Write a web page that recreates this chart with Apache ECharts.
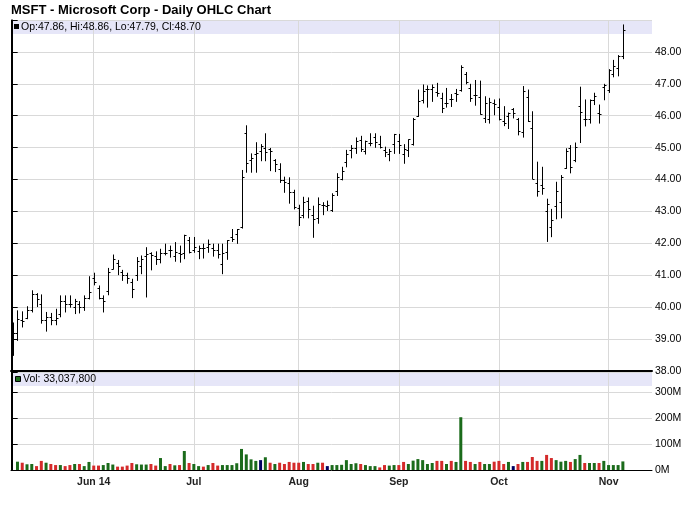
<!DOCTYPE html>
<html>
<head>
<meta charset="utf-8">
<script src="https://cdn.jsdelivr.net/npm/echarts@6/dist/echarts.min.js"></script>
<style>html,body{margin:0;padding:0;background:#fff}#c{width:700px;height:512px}</style>
</head>
<body>
<div id="c"></div>
<script>
const title = 'MSFT - Microsoft Corp - Daily OHLC Chart';
const dates = [
'2014-05-07','2014-05-08','2014-05-09','2014-05-12','2014-05-13','2014-05-14','2014-05-15','2014-05-16','2014-05-19','2014-05-20','2014-05-21','2014-05-22','2014-05-23','2014-05-27','2014-05-28','2014-05-29','2014-05-30',
'2014-06-02','2014-06-03','2014-06-04','2014-06-05','2014-06-06','2014-06-09','2014-06-10','2014-06-11','2014-06-12','2014-06-13','2014-06-16','2014-06-17','2014-06-18','2014-06-19','2014-06-20','2014-06-23','2014-06-24','2014-06-25','2014-06-26','2014-06-27','2014-06-30',
'2014-07-01','2014-07-02','2014-07-03','2014-07-07','2014-07-08','2014-07-09','2014-07-10','2014-07-11','2014-07-14','2014-07-15','2014-07-16','2014-07-17','2014-07-18','2014-07-21','2014-07-22','2014-07-23','2014-07-24','2014-07-25','2014-07-28','2014-07-29','2014-07-30','2014-07-31',
'2014-08-01','2014-08-04','2014-08-05','2014-08-06','2014-08-07','2014-08-08','2014-08-11','2014-08-12','2014-08-13','2014-08-14','2014-08-15','2014-08-18','2014-08-19','2014-08-20','2014-08-21','2014-08-22','2014-08-25','2014-08-26','2014-08-27','2014-08-28','2014-08-29',
'2014-09-02','2014-09-03','2014-09-04','2014-09-05','2014-09-08','2014-09-09','2014-09-10','2014-09-11','2014-09-12','2014-09-15','2014-09-16','2014-09-17','2014-09-18','2014-09-19','2014-09-22','2014-09-23','2014-09-24','2014-09-25','2014-09-26','2014-09-29','2014-09-30',
'2014-10-01','2014-10-02','2014-10-03','2014-10-06','2014-10-07','2014-10-08','2014-10-09','2014-10-10','2014-10-13','2014-10-14','2014-10-15','2014-10-16','2014-10-17','2014-10-20','2014-10-21','2014-10-22','2014-10-23','2014-10-24','2014-10-27','2014-10-28','2014-10-29','2014-10-30','2014-10-31',
'2014-11-03','2014-11-04','2014-11-05','2014-11-06'];
const tickLabels = ['Jun 14','Jul','Aug','Sep','Oct','Nov'];
const opens = [38.9,39.2,39.6,39.65,39.9,40.4,40.1,39.6,39.7,39.6,
39.8,40.2,40.1,40.0,40.1,40.0,40.3,40.9,40.6,40.3,
40.5,41.2,41.4,41.1,41.0,40.8,41.0,41.3,41.6,41.7,
41.6,41.5,41.7,41.8,41.6,41.7,41.7,42.1,41.8,41.75,
41.85,41.9,41.85,41.8,41.36,41.72,42.2,42.3,42.5,45.45,
44.6,44.8,44.9,45.0,44.95,44.6,44.33,44.0,43.9,43.6,
43.1,42.9,43.34,42.9,42.8,43.2,43.18,43.05,43.65,44.02,
44.54,44.93,45.0,45.24,44.9,45.13,45.34,45.11,44.93,44.8,
45.11,45.2,44.8,44.93,45.1,46.0,46.5,46.84,46.84,46.75,
46.56,46.4,46.53,46.72,46.8,47.3,46.87,46.66,46.6,45.93,
45.9,46.4,46.27,45.85,45.98,46.2,45.9,45.5,46.6,45.6,
43.9,43.82,43.0,42.51,43.17,43.3,44.35,45.0,44.6,46.3,
45.9,45.9,46.5,46.1,46.9,46.8,47.3,47.5,47.86];
const highs = [39.52,39.9,39.87,40.03,40.53,40.44,40.4,39.85,39.82,39.95,
40.37,40.37,40.37,40.26,40.19,40.37,40.97,41.08,40.68,40.37,
41.23,41.65,41.48,41.17,41.08,40.89,41.57,41.62,41.88,41.72,
41.75,41.83,41.99,41.93,42.04,41.93,42.27,42.2,42.2,41.93,
41.99,42.12,41.99,41.99,41.99,42.1,42.45,42.45,44.3,45.7,
44.82,45.17,45.11,45.45,44.99,44.64,44.51,44.09,44.07,43.68,
43.21,43.46,43.44,43.18,43.44,43.29,43.34,43.57,44.2,44.4,
44.93,45.08,45.32,45.37,45.22,45.45,45.45,45.37,45.03,44.96,
45.43,45.43,45.11,45.26,45.93,46.82,46.98,46.95,46.98,47.03,
46.72,46.87,46.68,46.84,47.58,47.37,47.0,47.12,47.1,46.61,
46.56,46.51,46.54,46.3,46.1,46.24,45.93,46.93,46.82,46.14,
44.56,44.4,43.4,43.08,43.93,44.14,44.98,45.08,45.16,46.91,
46.51,46.51,46.72,46.35,47.0,47.46,47.75,47.9,48.86];
const lows = [38.49,38.96,39.38,39.64,39.85,40.02,39.5,39.25,39.45,39.45,
39.7,39.85,40.0,39.8,39.82,39.9,40.26,40.7,40.26,39.85,
40.39,41.2,41.02,40.84,40.75,40.3,40.84,41.05,40.32,41.17,
41.34,41.39,41.64,41.57,41.44,41.41,41.52,41.7,41.72,41.52,
41.54,41.72,41.6,41.54,41.05,41.5,42.06,42.0,42.48,44.23,
44.23,44.23,44.59,44.59,44.28,44.25,43.91,43.6,43.26,43.08,
42.56,42.8,42.8,42.19,42.63,42.9,43.03,43.0,43.5,43.99,
44.4,44.68,44.82,44.88,44.8,45.06,45.01,44.99,44.72,44.59,
44.82,44.82,44.51,44.72,45.08,45.98,46.4,46.27,46.45,46.61,
46.1,46.27,46.29,46.45,46.77,47.0,46.45,46.33,46.05,45.79,
45.77,46.03,45.87,45.69,45.6,45.93,45.4,45.33,45.82,44.03,
43.48,43.54,42.06,42.21,42.77,42.8,44.35,44.21,44.56,45.16,
45.68,45.77,46.35,45.77,46.5,46.73,47.22,47.25,47.79];
const closes = [39.2,39.64,39.57,39.9,40.4,40.26,39.6,39.7,39.6,39.65,
40.2,40.1,40.1,40.2,40.0,40.3,40.47,40.8,40.3,40.2,
41.1,41.5,41.3,41.0,40.9,40.58,41.45,41.5,41.67,41.65,
41.5,41.7,41.7,41.78,41.72,41.67,42.25,41.72,41.88,41.85,
41.87,41.99,41.78,41.67,41.69,42.09,42.14,42.45,44.08,44.53,
44.69,44.84,45.05,44.87,44.9,44.49,44.0,43.91,43.6,43.13,
42.84,43.3,43.08,42.77,43.23,43.2,43.2,43.52,44.08,44.27,
44.79,45.0,45.2,44.95,45.2,45.15,45.17,45.01,44.87,44.88,
45.43,45.09,44.96,45.26,45.91,46.47,46.76,46.84,46.9,46.7,
46.24,46.4,46.52,46.68,47.52,47.06,46.56,46.64,46.04,46.41,
46.44,46.36,45.9,45.76,46.09,46.09,45.53,46.78,45.85,44.03,
43.65,43.73,43.22,42.74,43.63,44.08,44.88,44.38,45.02,46.13,
45.91,46.49,46.61,46.05,46.95,47.44,47.57,47.86,48.70];
// volume in millions of shares
const volumes = [null,32,28,22,23,15,35,28,23,19,
19,15,19,23,23,15,31,17,17,19,
27,21,13,13,17,27,22,21,21,23,
17,46,15,23,18,19,73,27,23,15,
13,19,27,17,19,19,19,26,81,60,
41,35,38,49,28,23,28,23,31,28,
28,31,23,23,28,28,15,19,19,20,
38,23,26,23,19,15,15,10,19,17,
19,19,31,23,36,42,38,23,27,35,
35,23,35,31,203,35,31,23,31,23,
23,32,35,23,31,15,23,31,31,50,
35,35,58,46,38,32,35,31,42,58,
27,27,27,27,35,19,19,19,33.0378];
// volume bar direction: u = up day, d = down day, n = unchanged
const volDirs = ['u','u','d','u','u','d','d','u','d','d',
'u','d','d','u','d','u','u','d','d','u',
'u','u','d','d','d','d','u','u','u','d',
'd','u','u','d','u','d','u','d','u','u',
'd','u','d','d','u','u','u','u','u','u',
'u','u','n','u','d','u','d','d','d','d',
'd','u','d','d','u','d','n','u','u','u',
'u','u','u','d','u','u','u','d','d','u',
'u','d','d','u','u','u','u','u','u','d',
'd','u','d','u','u','d','d','u','d','u',
'u','d','d','d','u','n','d','u','d','d',
'd','u','d','d','u','u','u','d','u','u',
'd','u','u','d','u','u','u','u','u'];

const FONT = '"Liberation Sans", Arial, sans-serif';
const dirColor = {u: '#1b6b1b', d: '#d42a2a', n: '#000060'};
const monthStartIdx = dates.map((d, i) => (i > 0 && d.slice(5, 7) !== dates[i - 1].slice(5, 7)) ? i : -1).filter(i => i >= 0);

const ohlc = dates.map((d, i) => [i, opens[i], highs[i], lows[i], closes[i]]);
const vols = dates.map((d, i) => ({value: [i, volumes[i]], itemStyle: {color: dirColor[volDirs[i]]}}));

const last = dates.length - 1;
const legendPrice = 'Op:' + opens[last].toFixed(2) + ', Hi:' + highs[last].toFixed(2) + ', Lo:' + lows[last].toFixed(2) + ', Cl:' + closes[last].toFixed(2);
const legendVol = 'Vol: ' + Math.round(volumes[last] * 1e6).toLocaleString('en-US');

const X_MIN = -0.357, X_MAX = 134.11;
const gridLine = {show: true, lineStyle: {color: '#d9d9d9', width: 1}};

function xAxisCfg(gi, showLabels) {
  return {
    type: 'value', gridIndex: gi, min: X_MIN, max: X_MAX,
    axisLine: {show: true, onZero: false, lineStyle: {color: '#000', width: gi === 0 ? 2 : 1}},
    axisTick: {show: false, customValues: monthStartIdx},
    splitLine: gridLine,
    axisLabel: {
      show: showLabels, customValues: monthStartIdx, margin: 7,
      fontFamily: FONT, fontSize: 10.5, fontWeight: 'bold', color: '#222',
      formatter: v => tickLabels[monthStartIdx.indexOf(Math.round(v))] || ''
    }
  };
}

const chart = echarts.init(document.getElementById('c'), null, {renderer: 'canvas'});
chart.setOption({
  animation: false,
  backgroundColor: '#fff',
  title: {text: title, left: 11, top: 4, padding: 0,
    textStyle: {fontFamily: FONT, fontSize: 13, fontWeight: 'bold', color: '#000'}},
  grid: [
    {left: 11, right: 48, top: 20, height: 351},
    {left: 11, right: 48, top: 372, height: 98}
  ],
  xAxis: [xAxisCfg(0, false), xAxisCfg(1, true)],
  yAxis: [
    {type: 'value', gridIndex: 0, position: 'right', min: 38, max: 49, interval: 1,
      axisLine: {show: true, lineStyle: {color: '#000'}},
      axisTick: {show: true, length: 5, lineStyle: {color: '#000'}},
      splitLine: gridLine,
      axisLabel: {margin: 3, fontFamily: FONT, fontSize: 10.5, color: '#000',
        formatter: v => v >= 49 ? '' : v.toFixed(2)}},
    {type: 'value', gridIndex: 0, position: 'left', min: 38, max: 49,
      axisLine: {show: true, lineStyle: {color: '#000'}},
      axisTick: {show: false}, axisLabel: {show: false}, splitLine: {show: false}},
    {type: 'value', gridIndex: 1, position: 'right', min: 0, max: 377, interval: 100,
      axisLine: {show: true, lineStyle: {color: '#000'}},
      axisTick: {show: true, length: 5, lineStyle: {color: '#000'}},
      splitLine: gridLine,
      axisLabel: {margin: 3, fontFamily: FONT, fontSize: 10.5, color: '#000',
        formatter: v => v > 350 ? '' : v + 'M'}},
    {type: 'value', gridIndex: 1, position: 'left', min: 0, max: 377,
      axisLine: {show: true, lineStyle: {color: '#000'}},
      axisTick: {show: false}, axisLabel: {show: false}, splitLine: {show: false}}
  ],
  graphic: [
    {type: 'rect', z: -1, shape: {x: 12, y: 20, width: 640, height: 14}, style: {fill: '#e6e6f8'}, silent: true},
    {type: 'rect', z: -1, shape: {x: 12, y: 373, width: 640, height: 13}, style: {fill: '#e6e6f8'}, silent: true},
    {type: 'rect', z: 20, shape: {x: 14, y: 24, width: 5, height: 5}, style: {fill: '#000'}},
    {type: 'text', z: 20, x: 21, y: 27, style: {text: legendPrice, fontFamily: FONT, fontSize: 10.5, fill: '#000', verticalAlign: 'middle'}},
    {type: 'rect', z: 20, shape: {x: 15.5, y: 376.5, width: 5, height: 5}, style: {fill: '#1b6b1b', stroke: '#000', lineWidth: 1}},
    {type: 'text', z: 20, x: 23, y: 379.5, style: {text: legendVol, fontFamily: FONT, fontSize: 10.5, fill: '#000', verticalAlign: 'middle'}}
  ],
  series: [
    {
      type: 'custom', xAxisIndex: 0, yAxisIndex: 0, data: ohlc,
      encode: {x: 0, y: [1, 2, 3, 4]},
      renderItem: function (params, api) {
        const x = api.value(0);
        const o = api.coord([x, api.value(1)]);
        const h = api.coord([x, api.value(2)]);
        const l = api.coord([x, api.value(3)]);
        const c = api.coord([x, api.value(4)]);
        const px = Math.round(h[0]) + 0.5;
        const st = {stroke: '#000', lineWidth: 1};
        return {type: 'group', children: [
          {type: 'line', shape: {x1: px, y1: h[1], x2: px, y2: l[1] + 0.5}, style: st},
          {type: 'line', shape: {x1: px - 2, y1: Math.round(o[1]) + 0.5, x2: px, y2: Math.round(o[1]) + 0.5}, style: st},
          {type: 'line', shape: {x1: px, y1: Math.round(c[1]) + 0.5, x2: px + 2, y2: Math.round(c[1]) + 0.5}, style: st}
        ]};
      },
      markLine: {
        silent: true, symbol: 'none', animation: false,
        lineStyle: {opacity: 0},
        label: {position: 'end', distance: 6, formatter: p => p.value.toFixed(2),
          backgroundColor: '#000', color: '#fff', fontFamily: FONT, fontSize: 10.5, padding: [2, 2, 1, 2]},
        data: [{yAxis: closes[last]}]
      }
    },
    {
      type: 'bar', xAxisIndex: 1, yAxisIndex: 2, data: vols, barWidth: 3
    }
  ]
});
</script>
</body>
</html>
